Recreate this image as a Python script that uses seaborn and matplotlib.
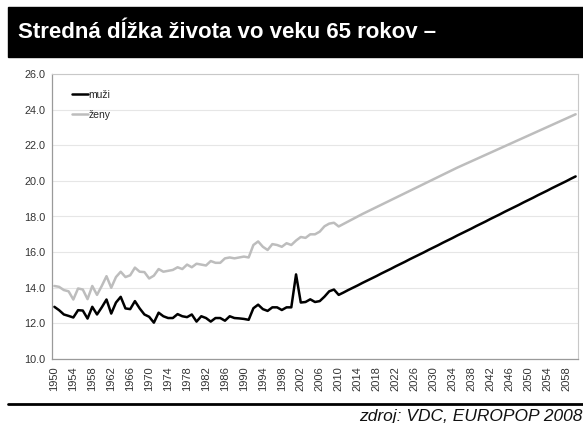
import matplotlib
matplotlib.use("Agg")
import matplotlib.pyplot as plt
import matplotlib.lines as mlines
import seaborn as sns
import pandas as pd
import numpy as np

years = list(range(1950, 2061))

muzi = [
    12.93, 12.74, 12.50, 12.42, 12.33, 12.74, 12.72, 12.27, 12.93, 12.50,  # 1950-59
    12.90, 13.34, 12.55, 13.17, 13.49, 12.84, 12.80, 13.25, 12.84, 12.50,  # 1960-69
    12.37, 12.04, 12.60, 12.40, 12.30, 12.30, 12.52, 12.40, 12.35, 12.50,  # 1970-79
    12.10, 12.40, 12.30, 12.10, 12.30, 12.30, 12.15, 12.40, 12.30, 12.28,  # 1980-89
    12.25, 12.20, 12.85, 13.05, 12.80, 12.70, 12.90, 12.90, 12.75, 12.90,  # 1990-99
    12.90, 14.75, 13.17, 13.20, 13.35, 13.20, 13.25, 13.50, 13.80, 13.90,  # 2000-09
    13.60, 13.73, 13.87, 14.00, 14.13, 14.27, 14.40, 14.53, 14.66, 14.80,  # 2010-19
    14.93, 15.06, 15.20, 15.33, 15.46, 15.60, 15.73, 15.86, 15.99, 16.13,  # 2020-29
    16.26, 16.39, 16.53, 16.66, 16.79, 16.93, 17.06, 17.19, 17.32, 17.46,  # 2030-39
    17.59, 17.72, 17.86, 17.99, 18.12, 18.26, 18.39, 18.52, 18.65, 18.79,  # 2040-49
    18.92, 19.05, 19.19, 19.32, 19.45, 19.59, 19.72, 19.85, 19.98, 20.12,  # 2050-59
    20.25,                                                                  # 2060
]

zeny = [
    14.10, 14.05, 13.87, 13.80, 13.34, 13.96, 13.90, 13.36, 14.10, 13.60,  # 1950-59
    14.10, 14.65, 14.00, 14.60, 14.90, 14.60, 14.70, 15.13, 14.90, 14.88,  # 1960-69
    14.52, 14.68, 15.05, 14.90, 14.95, 15.00, 15.15, 15.05, 15.30, 15.15,  # 1970-79
    15.35, 15.30, 15.25, 15.50, 15.40, 15.40, 15.65, 15.70, 15.65, 15.70,  # 1980-89
    15.75, 15.70, 16.40, 16.60, 16.30, 16.12, 16.45, 16.40, 16.30, 16.50,  # 1990-99
    16.40, 16.65, 16.85, 16.80, 17.00, 17.00, 17.15, 17.45, 17.60, 17.65,  # 2000-09
    17.44, 17.58, 17.72, 17.86, 18.00, 18.14, 18.27, 18.40, 18.53, 18.66,  # 2010-19
    18.79, 18.92, 19.05, 19.18, 19.31, 19.44, 19.57, 19.70, 19.83, 19.96,  # 2020-29
    20.09, 20.22, 20.35, 20.48, 20.61, 20.74, 20.86, 20.98, 21.10, 21.22,  # 2030-39
    21.34, 21.46, 21.58, 21.70, 21.82, 21.94, 22.06, 22.18, 22.30, 22.42,  # 2040-49
    22.54, 22.66, 22.78, 22.90, 23.02, 23.14, 23.26, 23.38, 23.50, 23.62,  # 2050-59
    23.74,                                                                  # 2060
]

series_names = ["muži", "ženy"]
series_colors = ["#000000", "#BDBDBD"]
label_years = list(range(1950, 2061, 4))
y_ticks = [10.0, 12.0, 14.0, 16.0, 18.0, 20.0, 22.0, 24.0, 26.0]

title_text = "Stredná dĺžka života vo veku 65 rokov –"
source_text = "zdroj: VDC, EUROPOP 2008"

df = pd.DataFrame({
    "rok": years * 2,
    "hodnota": muzi + zeny,
    "pohlavie": [series_names[0]] * len(years) + [series_names[1]] * len(years),
})

sns.set_theme(style="white")
plt.rcParams["font.family"] = ["Liberation Sans", "DejaVu Sans"]

W, H = 583, 423
fig = plt.figure(figsize=(W / 100, H / 100), dpi=100)

# title bar
fig.patches.append(plt.Rectangle((8 / W, 1 - 57 / H), 1 - 8 / W, 50 / H,
                                 transform=fig.transFigure, color="black", zorder=0))
fig.text(18 / W, 1 - 32 / H, title_text, color="white", fontsize=16,
         fontweight="bold", va="center", ha="left",
         family=["Liberation Sans Narrow", "Liberation Sans", "DejaVu Sans"])

ax = fig.add_axes([52 / W, 1 - 359 / H, (578 - 52) / W, (359 - 74) / H])

sns.lineplot(data=df, x="rok", y="hodnota", hue="pohlavie",
             palette=dict(zip(series_names, series_colors)),
             linewidth=1.8, ax=ax, legend=False)

ax.set_xlim(1949.5, 2060.5)
ax.set_ylim(10, 26)
ax.set_yticks(y_ticks)
ax.set_yticklabels([f"{v:.1f}" for v in y_ticks], fontsize=7.8, color="#333333")
ax.set_xticks(label_years)
ax.set_xticklabels([str(y) for y in label_years], rotation=90, fontsize=8, color="#333333")
ax.set_xticks([y - 0.5 for y in years] + [2060.5], minor=True)
ax.tick_params(axis="x", which="major", length=0, pad=5)
ax.tick_params(axis="x", which="minor", length=3, width=0.6, color="#9a9a9a", direction="out")
ax.tick_params(axis="y", which="major", length=3, width=0.6, color="#9a9a9a", direction="out", pad=2)
ax.set_xlabel("")
ax.set_ylabel("")

ax.grid(axis="y", color="#e6e6e6", linewidth=0.8)
ax.set_axisbelow(True)
for side in ["top", "right"]:
    ax.spines[side].set_color("#c8c8c8")
    ax.spines[side].set_linewidth(0.8)
for side in ["left", "bottom"]:
    ax.spines[side].set_color("#9a9a9a")
    ax.spines[side].set_linewidth(0.9)

handles = [mlines.Line2D([], [], color=c, linewidth=1.8) for c in series_colors]
ax.legend(handles, series_names, loc="upper left", bbox_to_anchor=(0.03, 0.96),
          frameon=False, fontsize=7.5, handlelength=1.5, handletextpad=0.1,
          labelspacing=1.0, borderaxespad=0)

# bottom rule and source
fig.add_artist(mlines.Line2D([8 / W, 1], [1 - 404 / H, 1 - 404 / H],
                             transform=fig.transFigure, color="black", linewidth=2))
fig.text(582 / W, 1 - 421 / H, source_text, ha="right", va="baseline",
         fontsize=12.5, style="italic", color="#111111",
         family=["Liberation Sans Narrow", "Liberation Sans", "DejaVu Sans"])

fig.savefig("out.png", dpi=100)
